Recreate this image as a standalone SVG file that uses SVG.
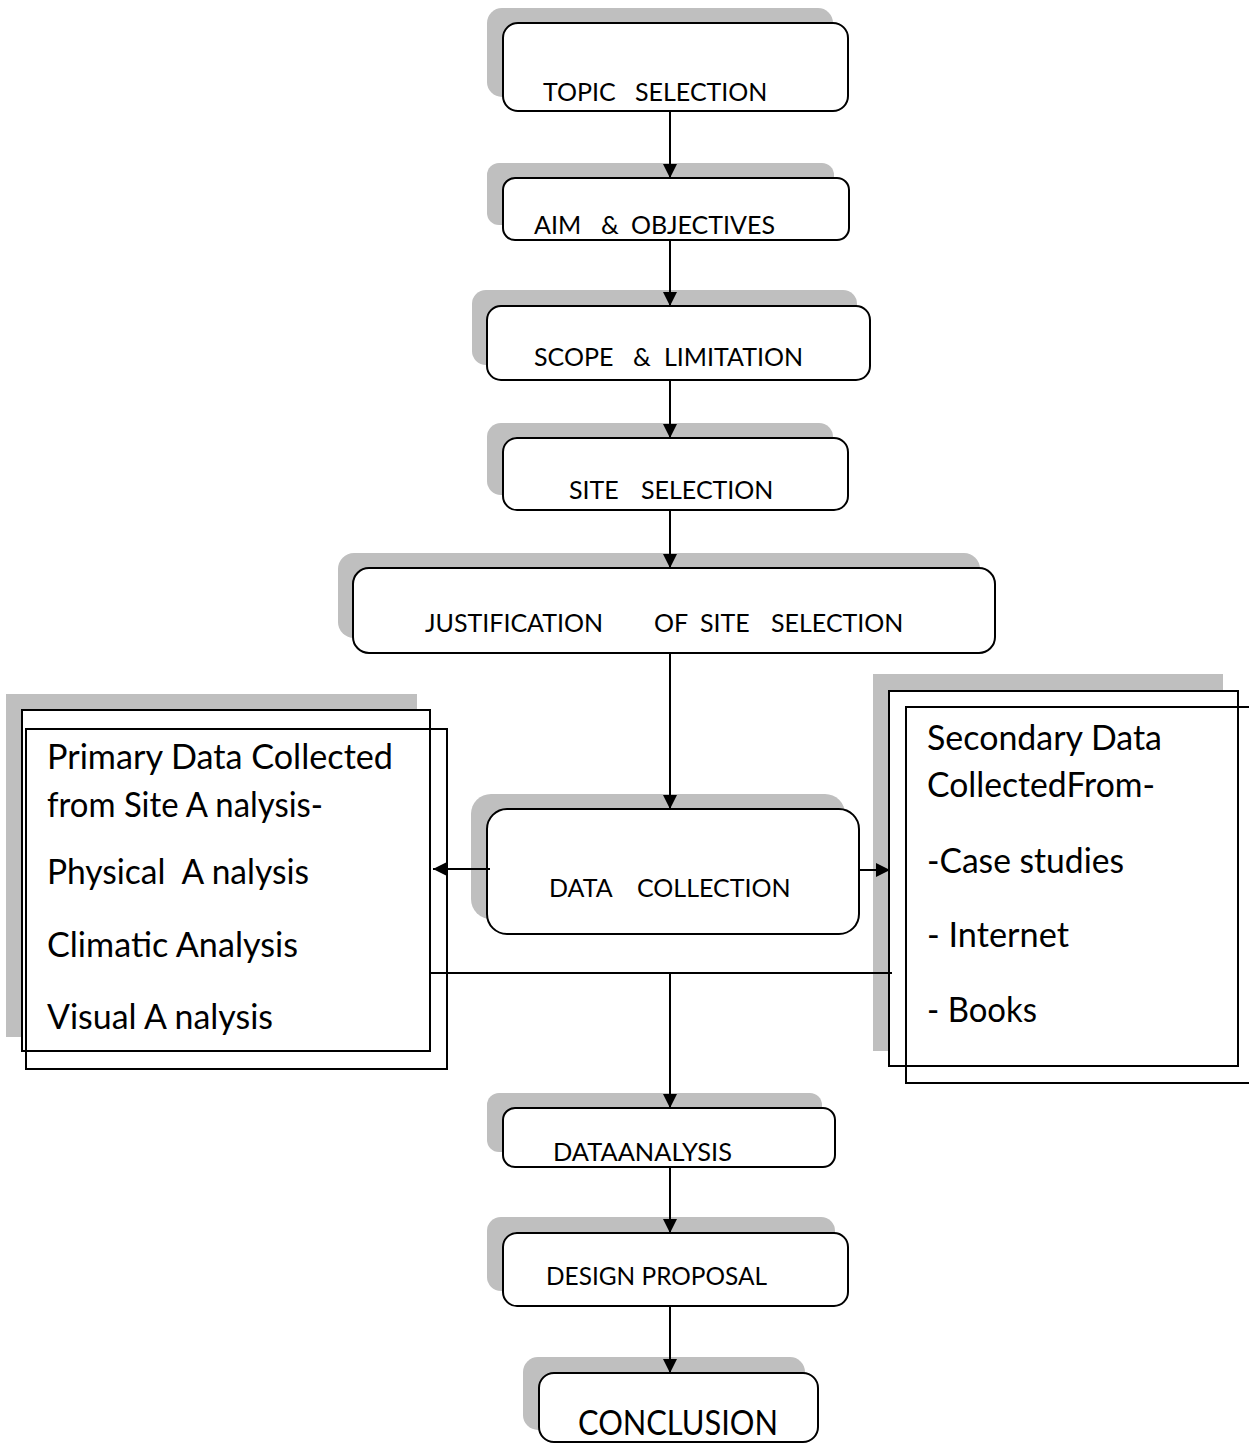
<svg xmlns="http://www.w3.org/2000/svg" width="1249" height="1444" viewBox="0 0 1249 1444">
<style>
.sh{fill:#bfbfbf;stroke:none}
.bx{fill:#fff;stroke:#000;stroke-width:2}
.ol{fill:none;stroke:#000;stroke-width:2}
.lb{font-family:Lato,"Open Sans",sans-serif;font-size:25px;fill:#000}
.bt{font-family:Lato,"Open Sans",sans-serif;font-size:34px;fill:#000}
.cn{stroke:#000;stroke-width:2;fill:none}
</style>
<defs>
<marker id="ah" markerUnits="userSpaceOnUse" markerWidth="14" markerHeight="14" refX="14" refY="7" orient="auto">
<path d="M0,0 L14,7 L0,14 z" fill="#000"/>
</marker>
</defs>
<rect width="1249" height="1444" fill="#fff"/>

<g id="topic">
<rect class="sh" x="487" y="8" width="346" height="89" rx="15"/>
<rect class="bx" x="503" y="23" width="345" height="88" rx="15"/>
<text class="lb" y="101"><tspan x="543">TOPIC</tspan><tspan x="635">SELECTION</tspan></text>
</g>

<g id="aim">
<rect class="sh" x="487" y="163" width="347" height="62" rx="12"/>
<rect class="bx" x="503" y="178" width="346" height="62" rx="12"/>
<text class="lb" y="234"><tspan x="534">AIM</tspan><tspan x="601">&amp;</tspan><tspan x="631">OBJECTIVES</tspan></text>
</g>

<g id="scope">
<rect class="sh" x="472" y="290" width="385" height="75" rx="14"/>
<rect class="bx" x="487" y="306" width="383" height="74" rx="14"/>
<text class="lb" y="366"><tspan x="534">SCOPE</tspan><tspan x="633">&amp;</tspan><tspan x="664">LIMITATION</tspan></text>
</g>

<g id="site">
<rect class="sh" x="487" y="423" width="346" height="72" rx="14"/>
<rect class="bx" x="503" y="438" width="345" height="72" rx="14"/>
<text class="lb" y="499"><tspan x="569">SITE</tspan><tspan x="641">SELECTION</tspan></text>
</g>

<g id="justification">
<rect class="sh" x="338" y="553" width="642" height="85" rx="16"/>
<rect class="bx" x="353" y="568" width="642" height="85" rx="16"/>
<text class="lb" y="632"><tspan x="425">JUSTIFICATION</tspan><tspan x="654">OF</tspan><tspan x="700">SITE</tspan><tspan x="771">SELECTION</tspan></text>
</g>

<g id="data-collection">
<rect class="sh" x="471" y="794" width="374" height="125" rx="20"/>
<rect class="bx" x="487" y="809" width="372" height="125" rx="20"/>
<text class="lb" y="897"><tspan x="549">DATA</tspan><tspan x="637">COLLECTION</tspan></text>
</g>

<g id="primary-data">
<rect class="sh" x="6" y="694" width="411" height="343"/>
<rect class="bx" x="22" y="710" width="408" height="341"/>
<rect class="ol" x="26" y="729" width="421" height="340"/>
<text class="bt" x="47" y="769" textLength="346" lengthAdjust="spacingAndGlyphs">Primary Data Collected</text>
<text class="bt" x="47" y="817" textLength="276" lengthAdjust="spacingAndGlyphs">from Site A nalysis-</text>
<text class="bt" x="47" y="884" textLength="262" lengthAdjust="spacingAndGlyphs" xml:space="preserve">Physical  A nalysis</text>
<text class="bt" x="47" y="957" textLength="251" lengthAdjust="spacingAndGlyphs">Climatic Analysis</text>
<text class="bt" x="47" y="1029" textLength="226" lengthAdjust="spacingAndGlyphs">Visual A nalysis</text>
</g>

<g id="secondary-data">
<rect class="sh" x="873" y="674" width="350" height="377"/>
<rect class="bx" x="889" y="691" width="349" height="375"/>
<rect class="ol" x="906" y="707" width="360" height="376"/>
<text class="bt" x="927" y="750" textLength="235" lengthAdjust="spacingAndGlyphs">Secondary Data</text>
<text class="bt" x="927" y="797" textLength="228" lengthAdjust="spacingAndGlyphs">CollectedFrom-</text>
<text class="bt" x="927" y="873" textLength="197" lengthAdjust="spacingAndGlyphs">-Case studies</text>
<text class="bt" x="927" y="947" textLength="142" lengthAdjust="spacingAndGlyphs">- Internet</text>
<text class="bt" x="927" y="1022" textLength="110" lengthAdjust="spacingAndGlyphs">- Books</text>
</g>

<g id="data-analysis">
<rect class="sh" x="487" y="1093" width="335" height="59" rx="12"/>
<rect class="bx" x="503" y="1108" width="332" height="59" rx="12"/>
<text class="lb" x="553" y="1161" textLength="179" lengthAdjust="spacingAndGlyphs">DATAANALYSIS</text>
</g>

<g id="design-proposal">
<rect class="sh" x="487" y="1217" width="348" height="74" rx="14"/>
<rect class="bx" x="503" y="1233" width="345" height="73" rx="14"/>
<text class="lb" x="546" y="1285" textLength="221" lengthAdjust="spacingAndGlyphs">DESIGN PROPOSAL</text>
</g>

<g id="conclusion">
<rect class="sh" x="523" y="1357" width="282" height="73" rx="15"/>
<rect class="bx" x="539" y="1373" width="279" height="69" rx="15"/>
<text class="bt" x="578" y="1435" style="font-size:35px" textLength="200" lengthAdjust="spacingAndGlyphs">CONCLUSION</text>
</g>

<g id="connectors">
<line class="cn" x1="670" y1="111" x2="670" y2="178" marker-end="url(#ah)"/>
<line class="cn" x1="670" y1="240" x2="670" y2="306" marker-end="url(#ah)"/>
<line class="cn" x1="670" y1="380" x2="670" y2="438" marker-end="url(#ah)"/>
<line class="cn" x1="670" y1="510" x2="670" y2="568" marker-end="url(#ah)"/>
<line class="cn" x1="670" y1="653" x2="670" y2="809" marker-end="url(#ah)"/>
<line class="cn" x1="490" y1="869" x2="433" y2="869" marker-end="url(#ah)"/>
<line class="cn" x1="859" y1="870" x2="890" y2="870" marker-end="url(#ah)"/>
<line class="cn" x1="430" y1="973" x2="892" y2="973"/>
<line class="cn" x1="670" y1="973" x2="670" y2="1108" marker-end="url(#ah)"/>
<line class="cn" x1="670" y1="1167" x2="670" y2="1233" marker-end="url(#ah)"/>
<line class="cn" x1="670" y1="1306" x2="670" y2="1373" marker-end="url(#ah)"/>
</g>
</svg>
